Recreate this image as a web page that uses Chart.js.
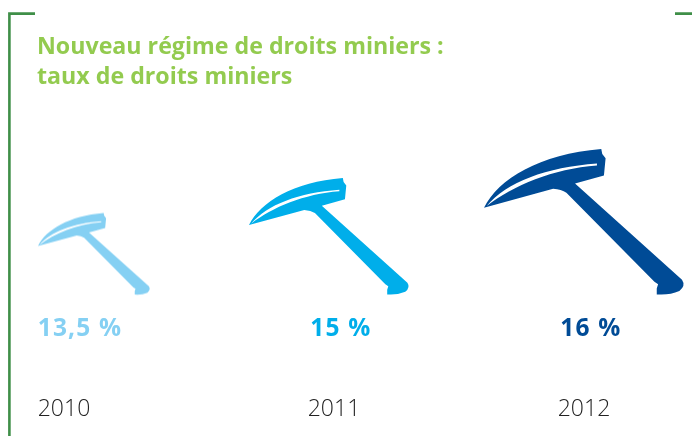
<!DOCTYPE html>
<html lang="fr">
<head>
<meta charset="utf-8">
<style>html,body{margin:0;padding:0;background:#fff}canvas{display:block}</style>
<script src="https://cdn.jsdelivr.net/npm/chart.js@4/dist/chart.umd.min.js"></script>
</head>
<body>
<canvas id="c" width="692" height="436"></canvas>
<script>
// Data
const years = ['2010', '2011', '2012'];
const rates = [13.5, 15, 16];
const titleLines = ['Nouveau régime de droits miniers :', 'taux de droits miniers'];

// Styles and layout (not data)
const colours = ['#85d0f3', '#00aeea', '#004b96'];
const titleColour = '#93cb4f';
const frameColour = '#3f8f48';
const iconWidths = [112, 160, 200];
const iconDx = [30, -5, 0];
const iconDy = [-0.5, 1.5, 0];
const tickNudge = [0, 10, 0];
const labelDx = [16, 7, 7];
const labelY = 329;
const uiFont = '"Open Sans", sans-serif';

// Pickaxe glyph, drawn once per year into a sprite used as a point style
const GLYPH = new Path2D(
  'M42 217C85 130 210 55 395 40L398 55L408 68L403 120L316 144L638 434Q650 452 630 468Q600 481 562 478' +
  'L562 460L566 447L555 440L290 172Q275 162 250 160ZM50 212C130 150 250 100 382 90L382 84C230 95 110 140 50 212Z');
const GX = 42, GY = 40, GW = 602, GH = 440;

function makeSprite(width, colour, dx, dy) {
  const k = width / GW, h = GH * k;
  const c = document.createElement('canvas');
  c.width = 2 * Math.ceil(Math.abs(dx) + width / 2 + 2);
  c.height = 2 * Math.ceil(Math.abs(dy) + h / 2 + 2);
  const g = c.getContext('2d');
  g.translate(c.width / 2 + dx - width / 2, c.height / 2 + dy - h / 2);
  g.scale(k, k);
  g.translate(-GX, -GY);
  g.fillStyle = colour;
  g.fill(GLYPH, 'evenodd');
  return c;
}
const sprites = rates.map((_, i) => makeSprite(iconWidths[i], colours[i], iconDx[i], iconDy[i]));

class YearAxis extends Chart.CategoryScale {
  getPixelForValue(value) {
    const px = super.getPixelForValue(value);
    const i = typeof value === 'number' ? Math.round(value) - this.min : 0;
    return px + (tickNudge[i] || 0);
  }
}
YearAxis.id = 'yearAxis';
YearAxis.defaults = Chart.CategoryScale.defaults;
Chart.register(YearAxis);

const framePlugin = {
  id: 'frame',
  beforeDraw(chart) {
    const g = chart.ctx;
    g.save();
    g.strokeStyle = frameColour;
    g.lineWidth = 2.6;
    g.lineJoin = 'miter';
    g.beginPath();
    g.moveTo(35, 13.6); g.lineTo(9.4, 13.6); g.lineTo(9.4, chart.height);
    g.moveTo(675, 13.6); g.lineTo(chart.width, 13.6);
    g.stroke();
    g.restore();
  }
};
const valueLabels = {
  id: 'valueLabels',
  afterDatasetsDraw(chart) {
    const g = chart.ctx, pts = chart.getDatasetMeta(0).data;
    g.save();
    g.font = '700 24.5px ' + uiFont;
    g.letterSpacing = '1.2px';
    g.textAlign = 'center';
    g.textBaseline = 'middle';
    pts.forEach((p, i) => {
      g.fillStyle = colours[i];
      g.fillText(String(rates[i]).replace('.', ',') + ' %', p.x + labelDx[i], labelY);
    });
    g.restore();
  }
};

new Chart(document.getElementById('c'), {
  type: 'line',
  data: {
    labels: years,
    datasets: [{
      data: rates,
      showLine: false,
      clip: false,
      pointStyle: sprites,
      pointRadius: 10,
      pointHoverRadius: 10
    }]
  },
  plugins: [framePlugin, valueLabels],
  options: {
    responsive: false,
    animation: false,
    events: [],
    layout: { padding: { left: 37, right: 108, top: 0, bottom: 0 } },
    plugins: {
      legend: { display: false },
      tooltip: { enabled: false },
      title: {
        display: true,
        text: titleLines,
        align: 'start',
        color: titleColour,
        font: { family: uiFont, size: 23.2, weight: '700', lineHeight: 30 / 23.2 },
        padding: { top: 32, bottom: 4 }
      }
    },
    scales: {
      x: {
        type: 'yearAxis',
        offset: false,
        grid: { display: false, drawTicks: false },
        border: { display: false },
        ticks: { color: '#222222', font: { family: uiFont, size: 23, weight: '300' }, padding: 0, autoSkip: false, maxRotation: 0, minRotation: 0 },
        afterFit(s) { s.height = 40; }
      },
      y: {
        min: 2.6,
        max: 25.7,
        grid: { display: false, drawTicks: false },
        border: { display: false },
        ticks: { display: false },
        afterFit(s) { s.width = 27; }
      }
    }
  }
});
</script>
</body>
</html>
